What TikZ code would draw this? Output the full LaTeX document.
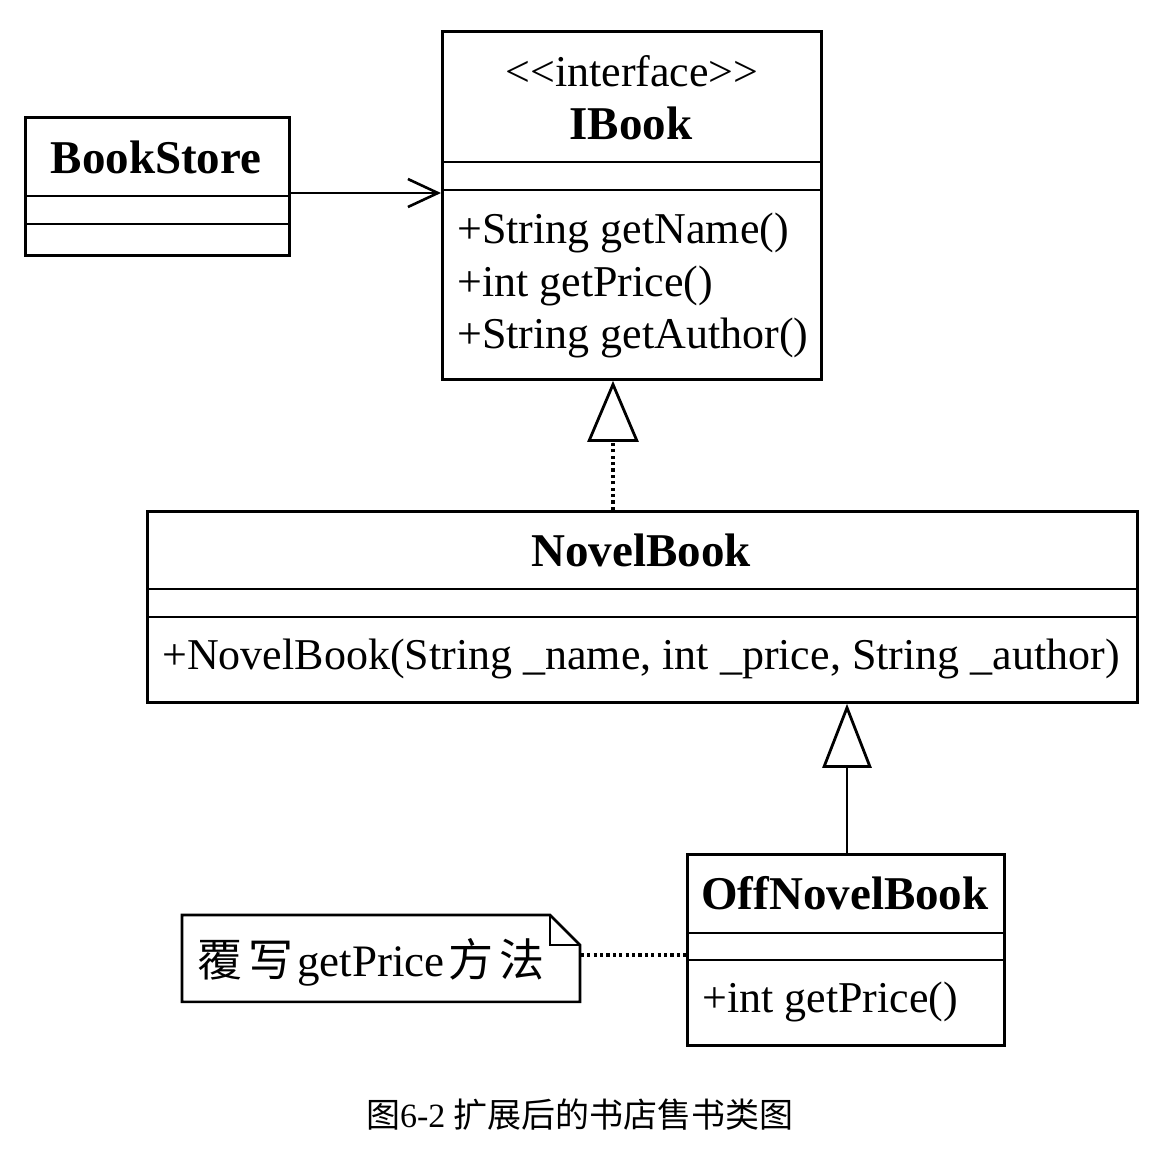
\documentclass[tikz,border=0pt]{standalone}
\usepackage{fontspec}
\setmainfont{Liberation Serif}
\newfontfamily\cjk{Noto Sans CJK SC}
\usetikzlibrary{arrows.meta,positioning}

\newcommand{\umltext}{\fontsize{22}{26}\selectfont}
\newcommand{\umltitle}{\fontsize{23.5}{28}\selectfont\bfseries}

\begin{document}
\begin{tikzpicture}[x=0.5pt,y=-0.5pt,
    umlbox/.style 2 args={draw, line width=1.4pt, inner sep=0pt, anchor=north west,
      minimum width=#1*0.5pt, minimum height=#2*0.5pt},
    rule/.style={line width=1.4pt},
    member/.style={anchor=west, inner sep=0pt, font=\umltext},
    title/.style={inner sep=0pt, font=\umltitle},
    dotline/.style={line width=1.8pt, dash pattern=on 1.6pt off 1.6pt},
    assoc/.style={line width=1.3pt, -{Straight Barb[length=15pt,width=14pt,line width=1.3pt]}},
    realize/.style={dotline, -{Triangle[length=30.5pt,width=25.5pt,fill=white,line width=1.4pt]}},
    inherit/.style={line width=1.4pt, -{Triangle[length=32pt,width=24.5pt,fill=white,line width=1.4pt]}}]

  % page and margins
  \fill[white] (0,0) rectangle (1168,1158);
  \useasboundingbox (0,0) rectangle (1168,1158);

  % BookStore class
  \node[umlbox={264}{138}] (store) at (24,116) {};
  \draw[rule] (store.north west) ++(0,80) -- ++(264,0);
  \draw[rule] (store.north west) ++(0,108) -- ++(264,0);
  \node[title] (storename) at (156,157) {BookStore};

  % IBook interface
  \node[umlbox={379}{348}] (ibook) at (441,30) {};
  \draw[rule] (ibook.north west) ++(0,132) -- ++(379,0);
  \draw[rule] (ibook.north west) ++(0,160) -- ++(379,0);
  \node[inner sep=0pt, font=\umltext] (stereo) at (632,71) {<{}<interface>{}>};
  \node[title] (ibookname) at (631,123) {IBook};
  \node[member] (m1) at (457,233) {+String getName()};
  \node[member] (m2) at (457,286) {+int getPrice()};
  \node[member] (m3) at (457,338) {+String getAuthor()};

  % NovelBook class
  \node[umlbox={990}{191}] (novel) at (146,510) {};
  \draw[rule] (novel.north west) ++(0,79) -- ++(990,0);
  \draw[rule] (novel.north west) ++(0,107) -- ++(990,0);
  \node[title] (novelname) at (641,550) {NovelBook};
  \node[member] (n1) at (162,659) {+NovelBook(String \_name, int \_price, String \_author)};

  % OffNovelBook class
  \node[umlbox={317}{191}] (off) at (686,853) {};
  \draw[rule] (off.north west) ++(0,80) -- ++(317,0);
  \draw[rule] (off.north west) ++(0,107) -- ++(317,0);
  \node[title] (offname) at (845,893) {OffNovelBook};
  \node[member] (o1) at (702,1002) {+int getPrice()};

  % note with folded corner
  \node[minimum width=199pt, minimum height=43pt, inner sep=0pt, anchor=north west] (note) at (182,915) {};
  \draw[line width=1.3pt] (note.north west) -- ++(368,0) -- ++(30,30) |- (note.south west) -- cycle;
  \draw[line width=1.3pt] (note.north west) ++(368,0) -- ++(0,30) -- ++(30,0);
  \node[inner sep=0pt, anchor=west] (notetext) at (197,962)
    {\fontsize{22.5}{27}\selectfont{\cjk 覆\hspace{3pt}写\hspace{2pt}}getPrice{\cjk\hspace{2pt}方\hspace{3pt}法}};

  % connectors
  \coordinate (a) at (0,193);
  \draw[assoc] (store.east |- a) -- (ibook.west |- a);
  \coordinate (r) at (613,0);
  \draw[realize] (novel.north -| r) -- (ibook.south -| r);
  \coordinate (g) at (847,0);
  \draw[inherit] (off.north -| g) -- (novel.south -| g);
  \coordinate (c) at (0,955);
  \draw[dotline] (note.east |- c) -- (off.west |- c);

  % caption
  \node[inner sep=0pt] (caption) at (580,1115)
    {\fontsize{17}{20}\selectfont{\cjk 图}6-2 {\cjk 扩展后的书店售书类图}};
\end{tikzpicture}
\end{document}
